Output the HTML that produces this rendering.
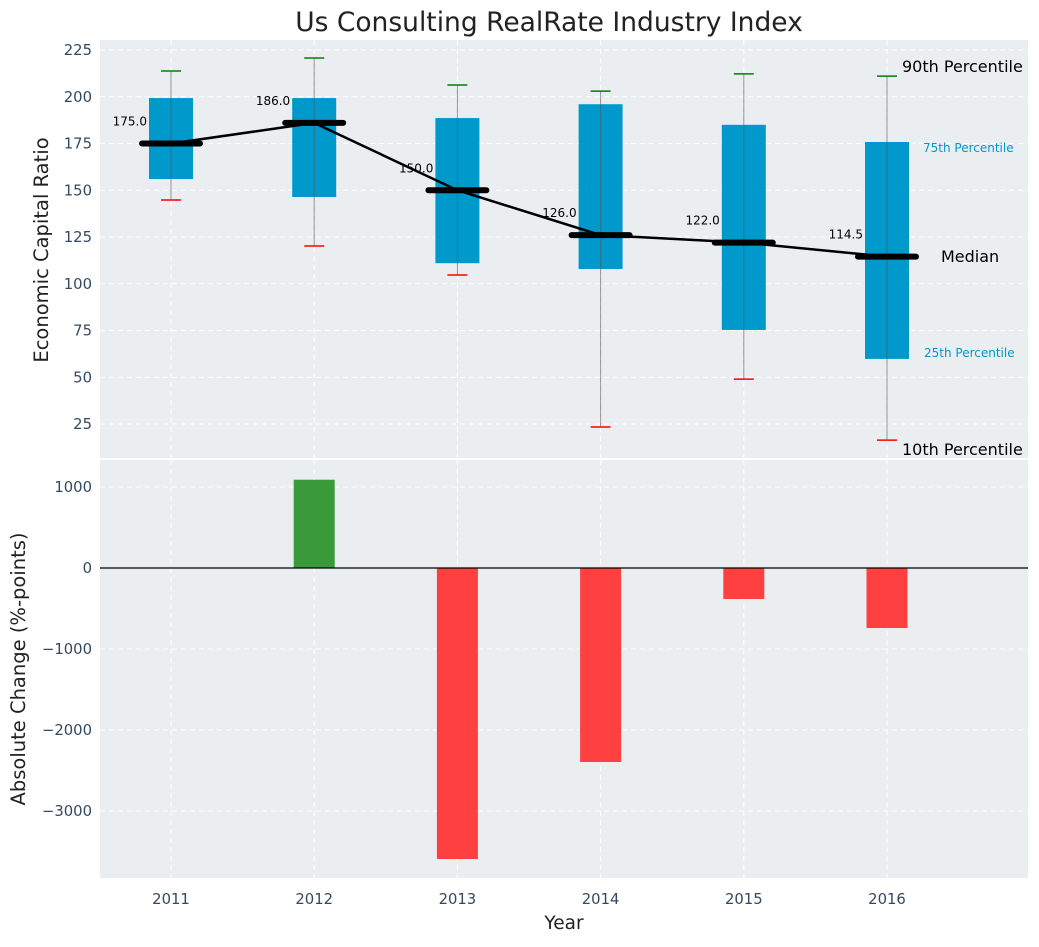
<!DOCTYPE html>
<html><head><meta charset="utf-8"><style>
body{margin:0;background:#fff;font-family:"Liberation Sans","DejaVu Sans",sans-serif}
svg text{font-family:"DejaVu Sans","Liberation Sans",sans-serif}
</style></head><body>
<svg id="c" width="1039" height="942" xmlns="http://www.w3.org/2000/svg"></svg>
<script>
const years=[2011,2012,2013,2014,2015,2016];
const p10=[144.8,120.2,104.7,23.4,49,16.4];
const p25=[156,146.4,111,107.9,75.3,59.8];
const med=[175,186,150,126,122,114.5];
const p75=[199.3,199.3,188.6,196,185,175.8];
const p90=[213.8,220.7,206.3,203,212.2,211];
const change=[0,1090,-3593,-2395,-383,-741];
const topTicks=[25,50,75,100,125,150,175,200,225];
const botTicks=[1000,0,-1000,-2000,-3000];
const botTickLabels=["1000","0","\u22121000","\u22122000","\u22123000"];

const NS="http://www.w3.org/2000/svg";
const svg=document.getElementById('c');
function el(t,a,p){const e=document.createElementNS(NS,t);for(const k in a)e.setAttribute(k,a[k]);(p||svg).appendChild(e);return e;}
const X=v=>171+(v-2011)*143.2;
const YT=v=>50+(225-v)*1.87;
const YB=v=>568-v*0.081;
const L=100,R=1028;
const TF=14.8;

let bg1=el('rect',{x:L,y:40,width:R-L,height:418,fill:'#ebeef0'});


let bg2=el('rect',{x:L,y:460,width:R-L,height:418,fill:'#ebeef0'});



years.forEach(y=>{
  el('line',{x1:X(y),x2:X(y),y1:40,y2:458,stroke:'#fff','stroke-dasharray':'5,4','stroke-width':1});
  el('line',{x1:X(y),x2:X(y),y1:460,y2:878,stroke:'#fff','stroke-dasharray':'5,4','stroke-width':1});
  let t=el('text',{x:X(y),y:904,'text-anchor':'middle','font-size':TF,fill:'#34495e'});t.textContent=y;
  
  
});
topTicks.forEach(v=>{
  el('line',{x1:L,x2:R,y1:YT(v),y2:YT(v),stroke:'#fff','stroke-dasharray':'5,4'});
  let t=el('text',{x:92,y:YT(v)+5,'text-anchor':'end','font-size':TF,fill:'#34495e'});t.textContent=v;
  
  
});
botTicks.forEach((v,i)=>{
  el('line',{x1:L,x2:R,y1:YB(v),y2:YB(v),stroke:'#fff','stroke-dasharray':'5,4'});
  let t=el('text',{x:92,y:YB(v)+5,'text-anchor':'end','font-size':TF,fill:'#34495e'});t.textContent=botTickLabels[i];
  
  
});

years.forEach((y,i)=>{
  const x=X(y);
  let b=el('rect',{x:x-22,y:YT(p75[i]),width:44,height:YT(p25[i])-YT(p75[i]),fill:'#0099cc'});
  
  
  el('line',{x1:x,x2:x,y1:YT(p90[i]),y2:YT(p10[i]),stroke:'#555','stroke-opacity':0.6,'stroke-width':1});
  el('line',{x1:x-10,x2:x+10,y1:YT(p90[i]),y2:YT(p90[i]),stroke:'#008000','stroke-width':1.5});
  el('line',{x1:x-10,x2:x+10,y1:YT(p10[i]),y2:YT(p10[i]),stroke:'#ff0000','stroke-width':1.5});
});
let pts=years.map((y,i)=>X(y)+','+YT(med[i])).join(' ');
let ml=el('polyline',{points:pts,fill:'none',stroke:'#000','stroke-width':2.5});


years.forEach((y,i)=>{
  const x=X(y);
  let m=el('line',{x1:x-29,x2:x+29,y1:YT(med[i]),y2:YT(med[i]),stroke:'#000','stroke-width':6,'stroke-linecap':'round'});
  
  
  let t=el('text',{x:x-24,y:YT(med[i])-18,'text-anchor':'end','font-size':12,fill:'#000'});t.textContent=med[i].toFixed(1);
  
  
});
[["90th Percentile",902,72,16,'#000'],["75th Percentile",923,152,12,'#0099cc'],["Median",941,262,16,'#000'],["25th Percentile",924,357,12,'#0099cc'],["10th Percentile",902,455,16,'#000']].forEach(a=>{
  let t=el('text',{x:a[1],y:a[2],'font-size':a[3],fill:a[4]});t.textContent=a[0];
  
  
});

years.forEach((y,i)=>{
  const v=change[i];if(v===0)return;
  let r=el('rect',{x:X(y)-20.5,y:Math.min(YB(v),YB(0)),width:41,height:Math.abs(YB(v)-YB(0)),fill:v>0?'#3a9a3a':'#ff4040'});
  
  
});
el('line',{x1:L,x2:R,y1:YB(0),y2:YB(0),stroke:'#000','stroke-width':1.2});

let tt=el('text',{x:549,y:31,'text-anchor':'middle','font-size':26.5,fill:'#222'});tt.textContent='Us Consulting RealRate Industry Index';


let yl=el('text',{x:0,y:0,'text-anchor':'middle','font-size':19.5,fill:'#222',transform:'translate(48,250) rotate(-90)'});yl.textContent='Economic Capital Ratio';


let yl2=el('text',{x:0,y:0,'text-anchor':'middle','font-size':19.5,fill:'#222',transform:'translate(25,669) rotate(-90)'});yl2.textContent='Absolute Change (%-points)';


let xl=el('text',{x:564,y:929,'text-anchor':'middle','font-size':18.5,fill:'#222'});xl.textContent='Year';


</script>
</body></html>
